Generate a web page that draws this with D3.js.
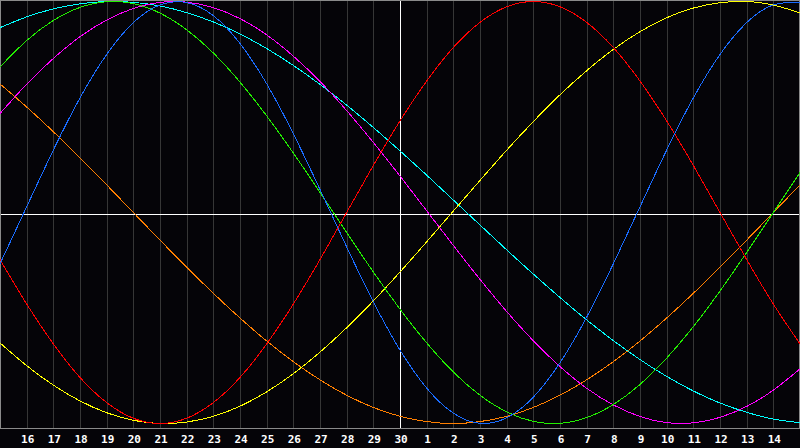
<!DOCTYPE html>
<html>
<head>
<meta charset="utf-8">
<script src="https://cdn.jsdelivr.net/npm/d3@7"></script>
<style>
  html, body { margin: 0; padding: 0; background: #050408; }
  svg { display: block; }
  .grid line { stroke: #363636; stroke-width: 1; shape-rendering: crispEdges; }
  .day-label { fill: #fff; font-family: "DejaVu Sans Mono", monospace; font-weight: bold; font-size: 11px; }
  .cycle { fill: none; stroke-width: 1; shape-rendering: crispEdges; }
</style>
</head>
<body>
<svg id="chart" width="800" height="448"></svg>
<script>
// day labels under the grid (day 15 sits at the left edge, day 15 of next month at the right)
const dayLabels = ["16","17","18","19","20","21","22","23","24","25","26","27","28","29","30",
                   "1","2","3","4","5","6","7","8","9","10","11","12","13","14"];

// one value per day, index 0 = left edge, index 30 = right edge
const physical = [-0.243,0.027,0.296,0.543,0.749,0.900,0.984,0.995,0.933,0.801,0.610,0.373,0.109,-0.163,-0.423,
  -0.652,-0.832,-0.951,-0.999,-0.973,-0.875,-0.712,-0.496,-0.243,0.027,0.296,0.543,0.749,0.900,0.984,0.995];
const emotional = [-0.223,-0.434,-0.623,-0.782,-0.901,-0.975,-1,-0.975,-0.901,-0.782,-0.623,-0.434,-0.223,0,0.223,
  0.434,0.623,0.782,0.901,0.975,1,0.975,0.901,0.782,0.623,0.434,0.223,0,-0.223,-0.434,-0.623];
const intellectual = [0.690,0.815,0.910,0.972,0.999,0.990,0.945,0.866,0.756,0.618,0.458,0.282,0.095,-0.095,-0.282,
  -0.458,-0.618,-0.756,-0.866,-0.945,-0.990,-0.999,-0.972,-0.910,-0.815,-0.690,-0.541,-0.372,-0.189,0,0.189];
const intuitive = [0.469,0.608,0.730,0.833,0.912,0.967,0.996,0.997,0.971,0.919,0.842,0.741,0.621,0.483,0.332,
  0.173,0.008,-0.156,-0.317,-0.469,-0.608,-0.730,-0.833,-0.912,-0.967,-0.996,-0.997,-0.971,-0.919,-0.842,-0.741];
const aesthetic = [-0.618,-0.726,-0.818,-0.893,-0.949,-0.985,-1,-0.993,-0.966,-0.918,-0.850,-0.764,-0.662,-0.546,-0.419,
  -0.282,-0.139,0.007,0.152,0.295,0.431,0.558,0.672,0.773,0.857,0.923,0.969,0.994,1,0.983,0.946];
const awareness = [0.609,0.5,0.383,0.259,0.131,0,-0.131,-0.259,-0.383,-0.5,-0.609,-0.707,-0.793,-0.866,-0.924,
  -0.966,-0.991,-1,-0.991,-0.966,-0.924,-0.866,-0.793,-0.707,-0.609,-0.5,-0.383,-0.259,-0.131,0,0.131];
const spiritual = [0.876,0.927,0.965,0.989,1,0.996,0.979,0.947,0.903,0.846,0.777,0.697,0.607,0.509,0.403,
  0.292,0.177,0.059,-0.059,-0.177,-0.292,-0.403,-0.509,-0.607,-0.697,-0.777,-0.846,-0.903,-0.947,-0.979,-0.996];

const seriesNames = ["awareness","spiritual","aesthetic","intuitive","intellectual","emotional","physical"];
const seriesValues = [awareness, spiritual, aesthetic, intuitive, intellectual, emotional, physical];
const seriesColors = ["#ff7f00","#00ffff","#ffff00","#ff00ff","#22ee00","#ff0000","#1a6cff"];

const svg = d3.select("#chart"),
    width = +svg.attr("width"),
    plotBottom = 428;

const x = d3.scaleLinear().domain([0, 30]).range([0, width]);
const y = d3.scaleLinear().domain([-1, 1]).range([423.5, 1.5]);

svg.append("rect")
    .attr("width", width).attr("height", 448)
    .attr("fill", "#050408");

// vertical day grid
const grid = svg.append("g").attr("class", "grid");
grid.selectAll("line")
    .data(dayLabels.map((d, i) => i + 1))
    .enter().append("line")
    .attr("x1", d => Math.round(x(d)) + 0.5)
    .attr("x2", d => Math.round(x(d)) + 0.5)
    .attr("y1", 0)
    .attr("y2", plotBottom);

// day labels
svg.append("g").selectAll("text")
    .data(dayLabels)
    .enter().append("text")
    .attr("class", "day-label")
    .attr("x", (d, i) => x(i + 1) + 1)
    .attr("y", 443)
    .attr("text-anchor", "middle")
    .text(d => d);

// centre cross
svg.append("line")
    .attr("x1", 0).attr("x2", width)
    .attr("y1", 214.5).attr("y2", 214.5)
    .attr("stroke", "#fff").attr("shape-rendering", "crispEdges");
svg.append("line")
    .attr("x1", x(15) + 0.5).attr("x2", x(15) + 0.5)
    .attr("y1", 0).attr("y2", plotBottom)
    .attr("stroke", "#fff").attr("shape-rendering", "crispEdges");

// plot frame
svg.append("rect")
    .attr("x", 0.5).attr("y", 0.5)
    .attr("width", width - 1).attr("height", plotBottom - 0.5)
    .attr("fill", "none")
    .attr("stroke", "#8a8a8a")
    .attr("shape-rendering", "crispEdges");

const line = d3.line()
    .x((d, i) => x(i))
    .y(d => y(d))
    .curve(d3.curveNatural);

svg.append("g").selectAll("path")
    .data(seriesValues)
    .enter().append("path")
    .attr("class", (d, i) => "cycle " + seriesNames[i])
    .attr("stroke", (d, i) => seriesColors[i])
    .attr("d", line);
</script>
</body>
</html>
